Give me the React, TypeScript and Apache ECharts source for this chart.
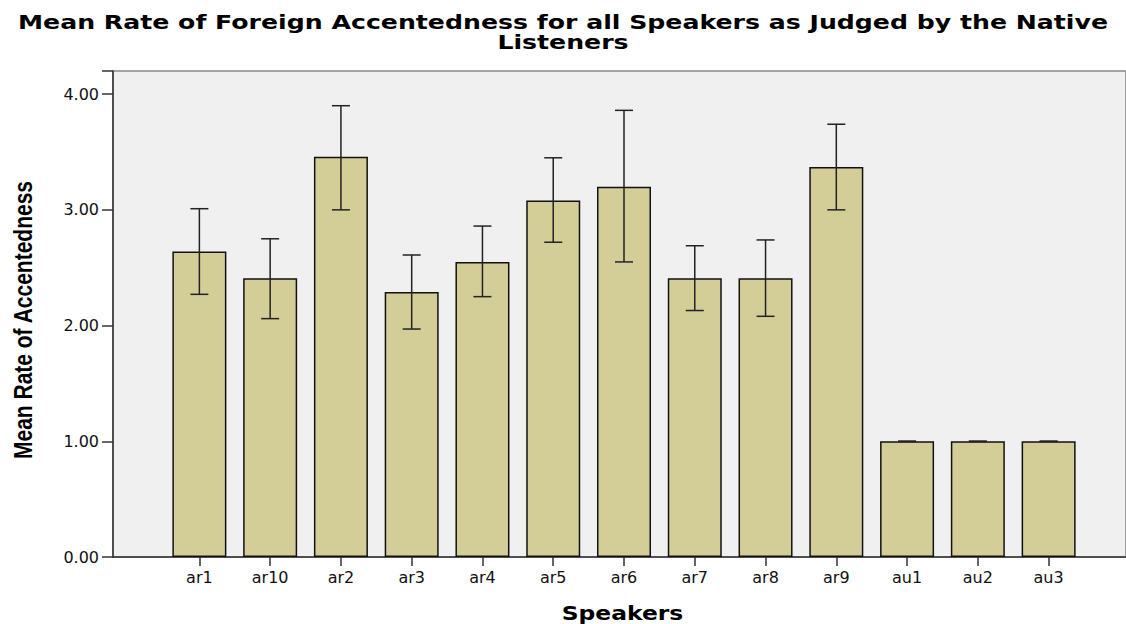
import React, { useEffect, useRef } from "react";
import * as echarts from "echarts";

const categories = ["ar1", "ar10", "ar2", "ar3", "ar4", "ar5", "ar6", "ar7", "ar8", "ar9", "au1", "au2", "au3"];
const means = [2.64, 2.41, 3.46, 2.29, 2.55, 3.08, 3.2, 2.41, 2.41, 3.37, 1.0, 1.0, 1.0];
const upper = [3.01, 2.75, 3.9, 2.61, 2.86, 3.45, 3.86, 2.69, 2.74, 3.74, 1.0, 1.0, 1.0];
const lower = [2.27, 2.06, 3.0, 1.97, 2.25, 2.72, 2.55, 2.13, 2.08, 3.0, 1.0, 1.0, 1.0];
const yTicks = [0, 1, 2, 3, 4];
const titleLine1 = "Mean Rate of Foreign Accentedness for all Speakers as Judged by the Native";
const titleLine2 = "Listeners";
const xName = "Speakers";
const yName = "Mean Rate of Accentedness";

export default function App() {
  const ref = useRef<HTMLDivElement>(null);
  useEffect(() => {
    if (!ref.current) return;
    const chart = echarts.init(ref.current, undefined, { renderer: "svg" });
    const errData = categories.map((_, i) => [i, lower[i], upper[i]]);
    const titleFont = 'bold 20px "DejaVu Sans"';
    chart.setOption({
      animation: false,
      backgroundColor: "#ffffff",
      graphic: [
        {
          type: "text",
          x: 563,
          y: 22,
          scaleX: 1.26,
          style: {
            text: titleLine1,
            font: titleFont,
            fill: "#000",
            textAlign: "center",
            textVerticalAlign: "middle",
          },
        },
        {
          type: "text",
          x: 563,
          y: 42,
          scaleX: 1.26,
          style: {
            text: titleLine2,
            font: titleFont,
            fill: "#000",
            textAlign: "center",
            textVerticalAlign: "middle",
          },
        },
        {
          type: "text",
          x: 622.5,
          y: 613,
          scaleX: 1.17,
          style: {
            text: xName,
            font: 'bold 20px "DejaVu Sans"',
            fill: "#000",
            textAlign: "center",
            textVerticalAlign: "middle",
          },
        },
        {
          type: "text",
          x: 23,
          y: 320,
          rotation: Math.PI / 2,
          scaleY: 1.2,
          style: {
            text: yName,
            font: 'bold 21px "Liberation Sans"',
            fill: "#000",
            textAlign: "center",
            textVerticalAlign: "middle",
          },
        },
      ],
      grid: [
        {
          left: 113,
          right: 0,
          top: 71,
          bottom: 67,
          show: true,
          backgroundColor: "#f0f0f0",
          borderColor: "#888888",
          borderWidth: 1.5,
          outerBoundsMode: "none",
          containLabel: false,
        },
        {
          left: 164,
          right: 42,
          top: 71,
          bottom: 67,
          outerBoundsMode: "none",
          containLabel: false,
        },
      ],
      xAxis: [
        {
          gridIndex: 0,
          type: "value",
          min: 0,
          max: 1,
          axisLine: { show: true, onZero: false, lineStyle: { color: "#333", width: 1.5 } },
          axisTick: { show: false },
          axisLabel: { show: false },
          splitLine: { show: false },
        },
        {
          gridIndex: 1,
          type: "category",
          data: categories,
          boundaryGap: true,
          axisLine: { show: false },
          axisTick: { show: true, alignWithLabel: true, length: 9, lineStyle: { color: "#333", width: 1.5 } },
          axisLabel: {
            margin: 12,
            fontFamily: "DejaVu Sans",
            fontSize: 16,
            color: "#111",
            interval: 0,
          },
        },
      ],
      yAxis: [
        {
          gridIndex: 0,
          type: "value",
          min: 0,
          max: 4.2,
          interval: 1,
          axisLine: { show: true, lineStyle: { color: "#333", width: 1.5 } },
          axisTick: { show: true, length: 11, lineStyle: { color: "#333", width: 1.5 } },
          axisLabel: {
            margin: 14,
            fontFamily: "DejaVu Sans",
            fontSize: 16,
            color: "#111",
            formatter: (v: number) => (yTicks.includes(v) ? v.toFixed(2) : ""),
          },
          splitLine: { show: false },
        },
        {
          gridIndex: 1,
          type: "value",
          min: 0,
          max: 4.2,
          interval: 1,
          show: false,
          splitLine: { show: false },
        },
      ],
      series: [
        {
          type: "bar",
          xAxisIndex: 1,
          yAxisIndex: 1,
          data: means,
          barWidth: 54,
          itemStyle: {
            color: "#d3ce98",
            borderColor: "#111",
            borderWidth: 1.5,
          },
        },
        {
          type: "custom",
          xAxisIndex: 1,
          yAxisIndex: 1,
          data: errData,
          z: 10,
          renderItem: (params: any, api: any) => {
            const x = api.value(0);
            const lo = api.coord([x, api.value(1)]);
            const hi = api.coord([x, api.value(2)]);
            const hw = 9;
            const style = { stroke: "#222", lineWidth: 1.5 };
            return {
              type: "group",
              children: [
                { type: "line", shape: { x1: hi[0], y1: hi[1], x2: lo[0], y2: lo[1] }, style },
                { type: "line", shape: { x1: hi[0] - hw, y1: hi[1], x2: hi[0] + hw, y2: hi[1] }, style },
                { type: "line", shape: { x1: lo[0] - hw, y1: lo[1], x2: lo[0] + hw, y2: lo[1] }, style },
              ],
            };
          },
        },
      ],
    });
    return () => chart.dispose();
  }, []);
  return (
    <div
      ref={ref}
      style={{ position: "absolute", left: 0, top: 0, width: 1126, height: 624 }}
    />
  );
}
